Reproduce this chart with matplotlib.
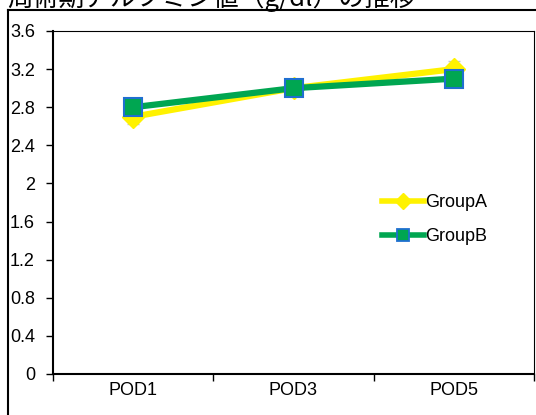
import matplotlib
matplotlib.use("Agg")
import matplotlib.pyplot as plt
from matplotlib.lines import Line2D
import numpy as np

plt.rcParams['font.family'] = ['Liberation Sans', 'Noto Sans CJK JP', 'DejaVu Sans']

title = "周術期アルブミン値（g/dl）の推移"
categories = ["POD1", "POD3", "POD5"]
group_a = [2.7, 3.0, 3.2]
group_b = [2.8, 3.0, 3.1]
err_a = [0.08, 0.05, 0.08]
err_b = [0.05, 0.05, 0.05]
yticks = [0, 0.4, 0.8, 1.2, 1.6, 2, 2.4, 2.8, 3.2, 3.6]
ytick_labels = ["0", "0.4", "0.8", "1.2", "1.6", "2", "2.4", "2.8", "3.2", "3.6"]

W, H = 536, 415
fig = plt.figure(figsize=(W / 100, H / 100), dpi=100)

# outer chart-area border (runs off the right and bottom edges)
fig.add_artist(plt.Line2D([8 / W, 8 / W], [0, 1 - 10 / H], color="black", lw=1.5,
                          transform=fig.transFigure))
fig.add_artist(plt.Line2D([8 / W, 1], [1 - 10 / H, 1 - 10 / H], color="black", lw=1.5,
                          transform=fig.transFigure))

fig.text(7 / W, 1 - 5.5 / H, title, fontsize=18.5, ha="left", va="baseline",
         family=['Noto Sans CJK JP', 'DejaVu Sans'])

ax = fig.add_axes([53 / W, 1 - 374 / H, (534 - 53) / W, (374 - 31) / H])
x = np.arange(len(categories))

grey = "#c8c8c8"
ax.errorbar(x, group_a, yerr=err_a, fmt="none", ecolor=grey, elinewidth=1,
            capsize=4, capthick=1, zorder=2)
ax.errorbar(x, group_b, yerr=err_b, fmt="none", ecolor=grey, elinewidth=1,
            capsize=4, capthick=1, zorder=2)

ax.plot(x, group_a, color="#fff200", lw=4.5, marker="D", ms=11,
        mfc="#fff200", mec="#fff200", zorder=3, label="GroupA", solid_capstyle="butt")
ax.plot(x, group_b, color="#00a651", lw=4.5, marker="s", ms=13.5,
        mfc="#00a651", mec="#1f6fd0", mew=1.5, zorder=4, label="GroupB",
        solid_capstyle="butt")

ax.set_xlim(-0.5, 2.5)
ax.set_ylim(0, 3.6)
ax.set_yticks(yticks)
ax.set_yticklabels(ytick_labels)
ax.set_xticks(x)
ax.set_xticklabels(categories)
ax.set_xticks([-0.5, 0.5, 1.5, 2.5], minor=True)

ax.tick_params(axis="y", direction="out", length=5, width=1, pad=8, labelsize=13)
ax.tick_params(axis="x", which="major", length=0, pad=6, labelsize=13)
ax.tick_params(axis="x", which="minor", direction="out", length=5, width=1)

for side in ["left", "bottom"]:
    ax.spines[side].set_linewidth(1.5)
for side in ["top", "right"]:
    ax.spines[side].set_linewidth(0.8)

handles = [
    Line2D([], [], color="#fff200", lw=4, marker="D", ms=8, mfc="#fff200", mec="#fff200"),
    Line2D([], [], color="#00a651", lw=4, marker="s", ms=8, mfc="#00a651", mec="#1f6fd0",
           mew=1.3),
]
ax.legend(handles, ["GroupA", "GroupB"], loc="upper left",
          bbox_to_anchor=((382 - 53) / (534 - 53), (374 - 194) / (374 - 31)),
          frameon=False, fontsize=13, handlelength=2.3, handletextpad=0.1,
          labelspacing=0.95, borderaxespad=0, borderpad=0)

fig.savefig("out.png", dpi=100)
